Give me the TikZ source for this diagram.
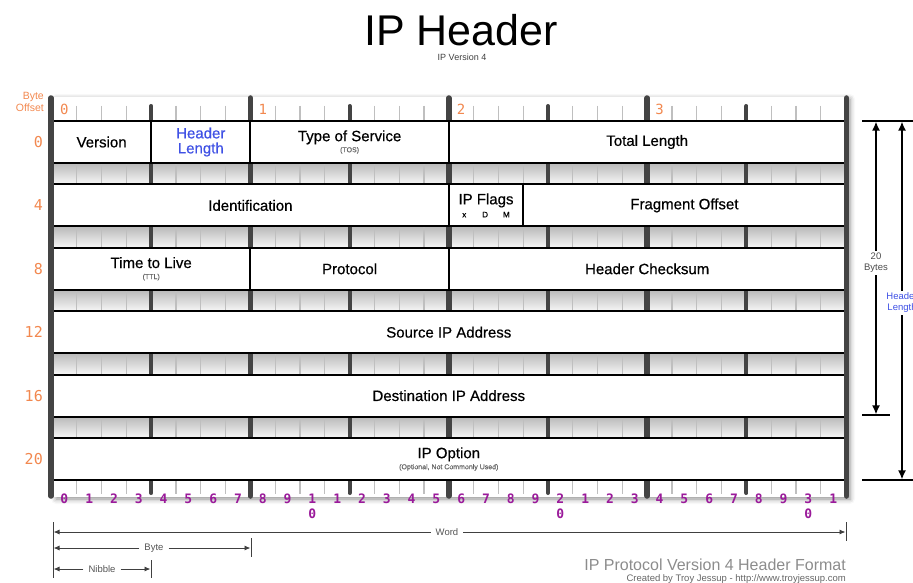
\documentclass[tikz,border=0pt]{standalone}
\usepackage{fontspec}
\setmainfont{Liberation Sans}
\setmonofont{DejaVu Sans Mono}
\newfontfamily\fieldfont{Liberation Sans}[FakeBold=0.5]
\usetikzlibrary{arrows.meta,shadows.blur}
\definecolor{barline}{HTML}{444444}
\definecolor{offsetorange}{HTML}{F2884F}
\definecolor{bitpurple}{HTML}{9A1A9A}
\definecolor{fieldblue}{HTML}{3F51E5}
\definecolor{notegray}{HTML}{555555}

% one header field: name, row, first bit, width in bits, text
\newcommand{\hdrfield}[5]{%
  \node[field, minimum width={#4*24.8pt}] (#1) at ({52+(#3+#4/2)*24.8},{142+#2*63.4}) {#5};}
\newcommand{\subtxt}[1]{{\fontsize{7}{7}\selectfont\color{black!60}#1}}

\begin{document}
\begin{tikzpicture}[
    x=1pt,y=-1pt,
    field/.style={
      draw=black,
      line width=2pt,
      fill=white,
      minimum height=42pt,
      inner sep=0pt,
      align=center,
      font=\fieldfont\fontsize{15}{16}\selectfont
    },
    bitline/.style={draw=gray!50,line width=1.2pt},
    nibblebar/.style={draw=barline,line width=4pt,line cap=round},
    bytebar/.style={draw=barline,line width=5.5pt,line cap=round},
    offset/.style={text=offsetorange,font=\ttfamily\fontsize{15}{15}\selectfont,inner sep=0pt},
    bitnum/.style={text=bitpurple,font=\ttfamily\bfseries\fontsize{13}{15}\selectfont,inner sep=0pt,align=center},
    note/.style={text=notegray,font=\fontsize{9.5}{11}\selectfont,align=center,inner sep=2pt},
    guide/.style={draw=black,line width=1.2pt},
    span/.style={-{Latex[length=9pt,width=8pt]},draw=black,line width=1.5pt},
    dim/.style={-{Latex[length=6pt,width=5pt]},draw=black!75,line width=0.9pt},
    dimtick/.style={draw=black!75,line width=0.9pt}
  ]
  \useasboundingbox (0,0) rectangle (913,583);

  % title
  \node[font=\fontsize{43}{47}\selectfont] (title) at (461,30) {IP Header};
  \node[font=\fontsize{9}{10}\selectfont,text=black!75] (subtitle) at (462,57) {IP Version 4};

  % frame with its shadow
  \path[fill=white,blur shadow={shadow xshift=4pt,shadow yshift=-2pt,shadow blur radius=5pt,shadow opacity=45}]
    (52,97) rectangle (846,497);

  % shaded strips between the rows
  \foreach \r in {0,...,4}
    \shade[top color=gray!55,bottom color=gray!6] (52,{163+\r*63.4}) rectangle (846,{184.4+\r*63.4});

  % bit ticks, nibble and byte bars
  \foreach \b in {1,...,31}
    \draw[bitline] ({52+\b*24.8},106) -- ({52+\b*24.8},494);
  \foreach \b in {4,12,20,28}
    \draw[nibblebar] ({52+\b*24.8},106) -- ({52+\b*24.8},493);
  \foreach \b in {8,16,24}
    \draw[bytebar] ({52+\b*24.8},98) -- ({52+\b*24.8},496);

  % fields
  \hdrfield{ver}{0}{0}{4}{Version}
  \hdrfield{ihl}{0}{4}{4}{\color{fieldblue}Header\\[-1pt]\color{fieldblue}Length}
  \hdrfield{tos}{0}{8}{8}{Type of Service\\[-5pt]\subtxt{(TOS)}}
  \hdrfield{totlen}{0}{16}{16}{Total Length}
  \hdrfield{ident}{1}{0}{16}{Identification}
  \hdrfield{flags}{1}{16}{3}{IP Flags\\[-3pt]{\fontsize{8}{9}\selectfont x\hspace{16pt}D\hspace{15pt}M}}
  \hdrfield{fragoff}{1}{19}{13}{Fragment Offset}
  \hdrfield{ttl}{2}{0}{8}{Time to Live\\[-5pt]\subtxt{(TTL)}}
  \hdrfield{proto}{2}{8}{8}{Protocol}
  \hdrfield{csum}{2}{16}{16}{Header Checksum}
  \hdrfield{srcip}{3}{0}{32}{Source IP Address}
  \hdrfield{dstip}{4}{0}{32}{Destination IP Address}
  \hdrfield{opt}{5}{0}{32}{IP Option\\[-5pt]\subtxt{(Optional, Not Commonly Used)}}

  % outer bars
  \draw[bytebar] (51,98) -- (51,496);
  \draw[bytebar] (846.5,98) -- (846.5,496);

  % byte offsets
  \node[text=offsetorange,font=\fontsize{10.5}{12.5}\selectfont,align=right,anchor=east,inner sep=0pt]
    (byteoffset) at (44,102) {Byte\\Offset};
  \foreach \B in {0,...,3}
    \node[offset,font=\ttfamily\fontsize{14}{14}\selectfont] (byte\B) at ({64.4+\B*8*24.8},109) {\B};
  \foreach \r/\o in {0/0,1/4,2/8,3/12,4/16,5/20}
    \node[offset,anchor=east] (off\o) at (43,{142+\r*63.4}) {\o};

  % bit numbers
  \foreach \b in {0,...,31}{
    \pgfmathtruncatemacro\lo{mod(\b,10)}
    \pgfmathtruncatemacro\hi{\b/10}
    \ifnum\lo=0 \ifnum\b>0 \def\lbl{\hi\\0}\else\def\lbl{0}\fi\else\def\lbl{\lo}\fi
    \node[bitnum,anchor=north] (bit\b) at ({64.4+\b*24.8},494) {\lbl};
  }

  % header length spans
  \coordinate (top west) at (862,121);
  \coordinate (top east) at (913,121);
  \coordinate (mid west) at (862,415);
  \coordinate (mid east) at (890,415);
  \coordinate (bot west) at (862,480);
  \coordinate (bot east) at (913,480);
  \draw[guide] (top west) -- (top east);
  \draw[guide] (mid west) -- (mid east);
  \draw[guide] (bot west) -- (bot east);
  \coordinate (twenty top) at (876,121.6);
  \coordinate (twenty bot) at (876,414.4);
  \coordinate (hlen top) at (902,121.6);
  \coordinate (hlen bot) at (902,479.4);
  \node[note,text=black!70] (twenty) at (876,263) {20\\Bytes};
  \node[note,text=fieldblue] (hlen) at (902,303) {Header\\Length};
  \draw[span] (twenty) -- (twenty top);
  \draw[span] (twenty) -- (twenty bot);
  \draw[span] (hlen) -- (hlen top);
  \draw[span] (hlen) -- (hlen bot);

  % word, byte and nibble widths
  \coordinate (w0 top) at (53,522);
  \coordinate (w0 bot) at (53,578);
  \coordinate (w32 top) at (846,522);
  \coordinate (w32 bot) at (846,541);
  \coordinate (w8 top) at (251,538);
  \coordinate (w8 bot) at (251,557);
  \coordinate (w4 top) at (151,560);
  \coordinate (w4 bot) at (151,578);
  \draw[dimtick] (w0 top) -- (w0 bot);
  \draw[dimtick] (w32 top) -- (w32 bot);
  \draw[dimtick] (w8 top) -- (w8 bot);
  \draw[dimtick] (w4 top) -- (w4 bot);
  \coordinate (word west) at (53.5,532);
  \coordinate (word east) at (845.5,532);
  \coordinate (byte west) at (53.5,548);
  \coordinate (byte east) at (250.5,548);
  \coordinate (nibble west) at (53.5,569);
  \coordinate (nibble east) at (150.5,569);
  \node[note,inner sep=5pt] (word) at (447,532) {Word};
  \node[note,inner sep=5pt] (byte) at (154,548) {Byte};
  \node[note,inner sep=5pt] (nibble) at (102,569) {Nibble};
  \draw[dim] (word) -- (word west);
  \draw[dim] (word) -- (word east);
  \draw[dim] (byte) -- (byte west);
  \draw[dim] (byte) -- (byte east);
  \draw[dim] (nibble) -- (nibble west);
  \draw[dim] (nibble) -- (nibble east);

  % caption
  \node[anchor=base east,inner sep=0pt,text=black!45,font=\fontsize{16}{18}\selectfont]
    (caption) at (846,570) {IP Protocol Version 4 Header Format};
  \node[anchor=base east,inner sep=0pt,text=black!60,font=\fontsize{9.5}{11}\selectfont]
    (credit) at (846,581) {Created by Troy Jessup - http://www.troyjessup.com};
\end{tikzpicture}
\end{document}
